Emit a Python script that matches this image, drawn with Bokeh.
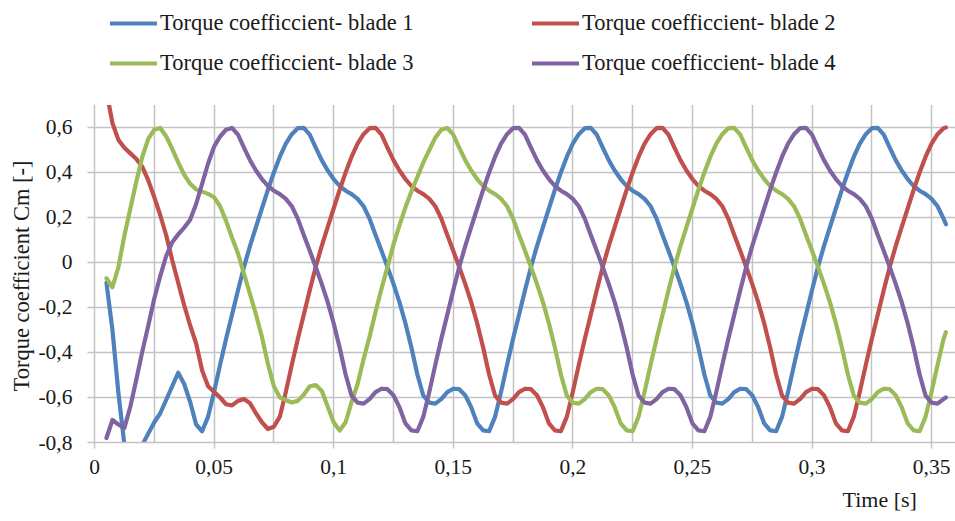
from bokeh.plotting import figure
from bokeh.models import (ColumnDataSource, FixedTicker, CustomJSTickFormatter,
                          Legend, LegendItem, Title, Range1d, BoxAnnotation)
from bokeh.embed import file_html
from bokeh.resources import INLINE

# ---------------- data ----------------
time_s = [
    0.005, 0.0075, 0.01, 0.0125, 0.015, 0.0175, 0.02, 0.0225,
    0.025, 0.0275, 0.03, 0.0325, 0.035, 0.0375, 0.04, 0.0425,
    0.045, 0.0475, 0.05, 0.0525, 0.055, 0.0575, 0.06, 0.0625,
    0.065, 0.0675, 0.07, 0.0725, 0.075, 0.0775, 0.08, 0.0825,
    0.085, 0.0875, 0.09, 0.0925, 0.095, 0.0975, 0.1, 0.1025,
    0.105, 0.1075, 0.11, 0.1125, 0.115, 0.1175, 0.12, 0.1225,
    0.125, 0.1275, 0.13, 0.1325, 0.135, 0.1375, 0.14, 0.1425,
    0.145, 0.1475, 0.15, 0.1525, 0.155, 0.1575, 0.16, 0.1625,
    0.165, 0.1675, 0.17, 0.1725, 0.175, 0.1775, 0.18, 0.1825,
    0.185, 0.1875, 0.19, 0.1925, 0.195, 0.1975, 0.2, 0.2025,
    0.205, 0.2075, 0.21, 0.2125, 0.215, 0.2175, 0.22, 0.2225,
    0.225, 0.2275, 0.23, 0.2325, 0.235, 0.2375, 0.24, 0.2425,
    0.245, 0.2475, 0.25, 0.2525, 0.255, 0.2575, 0.26, 0.2625,
    0.265, 0.2675, 0.27, 0.2725, 0.275, 0.2775, 0.28, 0.2825,
    0.285, 0.2875, 0.29, 0.2925, 0.295, 0.2975, 0.3, 0.3025,
    0.305, 0.3075, 0.31, 0.3125, 0.315, 0.3175, 0.32, 0.3225,
    0.325, 0.3275, 0.33, 0.3325, 0.335, 0.3375, 0.34, 0.3425,
    0.345, 0.3475, 0.35, 0.3525, 0.355, 0.356,
]

blade_1 = [
    -0.09, -0.30, -0.58, -0.81, -0.83, -0.83, -0.81, -0.76,
    -0.71, -0.67, -0.61, -0.55, -0.49, -0.54, -0.62, -0.72,
    -0.75, -0.685, -0.575, -0.455, -0.34, -0.232, -0.123, -0.02,
    0.073, 0.157, 0.24, 0.323, 0.4, 0.47, 0.528, 0.57,
    0.597, 0.598, 0.568, 0.51, 0.455, 0.409, 0.371, 0.34,
    0.319, 0.304, 0.283, 0.25, 0.195, 0.122, 0.052, -0.02,
    -0.095, -0.176, -0.27, -0.378, -0.498, -0.592, -0.623, -0.627,
    -0.607, -0.576, -0.561, -0.563, -0.59, -0.643, -0.715, -0.746,
    -0.75, -0.685, -0.575, -0.455, -0.34, -0.232, -0.123, -0.02,
    0.073, 0.157, 0.24, 0.323, 0.4, 0.47, 0.528, 0.57,
    0.597, 0.598, 0.568, 0.51, 0.455, 0.409, 0.371, 0.34,
    0.319, 0.304, 0.283, 0.25, 0.195, 0.122, 0.052, -0.02,
    -0.095, -0.176, -0.27, -0.378, -0.498, -0.592, -0.623, -0.627,
    -0.607, -0.576, -0.561, -0.563, -0.59, -0.643, -0.715, -0.746,
    -0.75, -0.685, -0.575, -0.455, -0.34, -0.232, -0.123, -0.02,
    0.073, 0.157, 0.24, 0.323, 0.4, 0.47, 0.528, 0.57,
    0.597, 0.598, 0.568, 0.51, 0.455, 0.409, 0.371, 0.34,
    0.319, 0.304, 0.283, 0.25, 0.195, 0.17,
]

blade_2 = [
    0.76, 0.62, 0.545, 0.51, 0.485, 0.46, 0.425, 0.365,
    0.29, 0.21, 0.12, 0.01, -0.09, -0.19, -0.28, -0.36,
    -0.48, -0.55, -0.575, -0.60, -0.63, -0.635, -0.615, -0.607,
    -0.625, -0.67, -0.71, -0.74, -0.73, -0.685, -0.575, -0.455,
    -0.34, -0.232, -0.123, -0.02, 0.073, 0.157, 0.24, 0.323,
    0.4, 0.47, 0.528, 0.57, 0.597, 0.598, 0.568, 0.51,
    0.455, 0.409, 0.371, 0.34, 0.319, 0.304, 0.283, 0.25,
    0.195, 0.122, 0.052, -0.02, -0.095, -0.176, -0.27, -0.378,
    -0.498, -0.592, -0.623, -0.627, -0.607, -0.576, -0.561, -0.563,
    -0.59, -0.643, -0.715, -0.746, -0.75, -0.685, -0.575, -0.455,
    -0.34, -0.232, -0.123, -0.02, 0.073, 0.157, 0.24, 0.323,
    0.4, 0.47, 0.528, 0.57, 0.597, 0.598, 0.568, 0.51,
    0.455, 0.409, 0.371, 0.34, 0.319, 0.304, 0.283, 0.25,
    0.195, 0.122, 0.052, -0.02, -0.095, -0.176, -0.27, -0.378,
    -0.498, -0.592, -0.623, -0.627, -0.607, -0.576, -0.561, -0.563,
    -0.59, -0.643, -0.715, -0.746, -0.75, -0.685, -0.575, -0.455,
    -0.34, -0.232, -0.123, -0.02, 0.073, 0.157, 0.24, 0.323,
    0.4, 0.47, 0.528, 0.57, 0.597, 0.60,
]

blade_3 = [
    -0.07, -0.11, -0.02, 0.12, 0.24, 0.36, 0.47, 0.55,
    0.59, 0.598, 0.56, 0.505, 0.445, 0.39, 0.35, 0.325,
    0.315, 0.305, 0.29, 0.25, 0.185, 0.11, 0.04, -0.05,
    -0.14, -0.23, -0.33, -0.45, -0.55, -0.60, -0.612, -0.622,
    -0.615, -0.588, -0.55, -0.545, -0.57, -0.64, -0.71, -0.747,
    -0.71, -0.62, -0.54, -0.43, -0.33, -0.22, -0.117, -0.02,
    0.08, 0.165, 0.245, 0.315, 0.38, 0.445, 0.50, 0.555,
    0.59, 0.598, 0.568, 0.51, 0.455, 0.409, 0.371, 0.34,
    0.319, 0.304, 0.283, 0.25, 0.195, 0.122, 0.052, -0.02,
    -0.095, -0.176, -0.27, -0.378, -0.498, -0.592, -0.623, -0.627,
    -0.607, -0.576, -0.561, -0.563, -0.59, -0.643, -0.715, -0.746,
    -0.75, -0.685, -0.575, -0.455, -0.34, -0.232, -0.123, -0.02,
    0.073, 0.157, 0.24, 0.323, 0.4, 0.47, 0.528, 0.57,
    0.597, 0.598, 0.568, 0.51, 0.455, 0.409, 0.371, 0.34,
    0.319, 0.304, 0.283, 0.25, 0.195, 0.122, 0.052, -0.02,
    -0.095, -0.176, -0.27, -0.378, -0.498, -0.592, -0.623, -0.627,
    -0.607, -0.576, -0.561, -0.563, -0.59, -0.643, -0.715, -0.746,
    -0.75, -0.685, -0.575, -0.455, -0.34, -0.31,
]

blade_4 = [
    -0.78, -0.70, -0.72, -0.735, -0.64, -0.52, -0.395, -0.28,
    -0.16, -0.06, 0.03, 0.09, 0.125, 0.155, 0.19, 0.26,
    0.35, 0.44, 0.515, 0.56, 0.59, 0.598, 0.568, 0.51,
    0.455, 0.409, 0.371, 0.34, 0.319, 0.304, 0.283, 0.25,
    0.195, 0.122, 0.052, -0.02, -0.095, -0.176, -0.27, -0.378,
    -0.498, -0.592, -0.623, -0.627, -0.607, -0.576, -0.561, -0.563,
    -0.59, -0.643, -0.715, -0.746, -0.75, -0.685, -0.575, -0.455,
    -0.34, -0.232, -0.123, -0.02, 0.073, 0.157, 0.24, 0.323,
    0.4, 0.47, 0.528, 0.57, 0.597, 0.598, 0.568, 0.51,
    0.455, 0.409, 0.371, 0.34, 0.319, 0.304, 0.283, 0.25,
    0.195, 0.122, 0.052, -0.02, -0.095, -0.176, -0.27, -0.378,
    -0.498, -0.592, -0.623, -0.627, -0.607, -0.576, -0.561, -0.563,
    -0.59, -0.643, -0.715, -0.746, -0.75, -0.685, -0.575, -0.455,
    -0.34, -0.232, -0.123, -0.02, 0.073, 0.157, 0.24, 0.323,
    0.4, 0.47, 0.528, 0.57, 0.597, 0.598, 0.568, 0.51,
    0.455, 0.409, 0.371, 0.34, 0.319, 0.304, 0.283, 0.25,
    0.195, 0.122, 0.052, -0.02, -0.095, -0.176, -0.27, -0.378,
    -0.498, -0.592, -0.623, -0.627, -0.607, -0.60,
]

series_names = ["Torque coefficcient- blade 1", "Torque coefficcient- blade 2",
                "Torque coefficcient- blade 3", "Torque coefficcient- blade 4"]
series_colors = ["#4F81BD", "#C0504D", "#9BBB59", "#8064A2"]

x_major_ticks = [0, 0.05, 0.1, 0.15, 0.2, 0.25, 0.3, 0.35]
x_minor_ticks = [0.025, 0.075, 0.125, 0.175, 0.225, 0.275, 0.325]
y_ticks = [-0.8, -0.6, -0.4, -0.2, 0, 0.2, 0.4, 0.6]
y_axis_bounds = (-0.8, 0.7)

x_title = "Time [s]"
y_title = "Torque coefficient Cm [-]"

# ---------------- figure ----------------
FONT = "Liberation Serif"
GRID = "#C3C3C3"
TXT = "#1a1a1a"

src = ColumnDataSource(dict(t=time_s, b1=blade_1, b2=blade_2, b3=blade_3, b4=blade_4))

# the frame reaches the top of the canvas so that the legend (drawn inside it)
# is not clipped; the part above 0.7 is masked white.
p = figure(width=955, height=521, output_backend="svg", toolbar_location=None,
           x_range=Range1d(0, 0.36), y_range=Range1d(-0.8, 1.1644),
           min_border_left=94, min_border_right=0, min_border_top=0,
           min_border_bottom=79)
p.outline_line_color = None
p.background_fill_color = "white"
p.border_fill_color = "white"

renderers = []
for key, col in zip(["b1", "b2", "b3", "b4"], series_colors):
    r = p.line("t", key, source=src, line_color=col, line_width=4.2,
               line_join="round", line_cap="round")
    renderers.append(r)

fmt = CustomJSTickFormatter(code="""
    const v = Math.round(tick * 1000) / 1000;
    return v.toString().replace('.', ',');
""")

xa = p.xaxis[0]
xa.ticker = FixedTicker(ticks=x_major_ticks, minor_ticks=x_minor_ticks)
xa.formatter = fmt
xa.major_label_text_font = FONT
xa.major_label_text_font_size = "21.5px"
xa.major_label_text_color = TXT
xa.axis_line_color = GRID
xa.axis_line_width = 1.5
xa.major_tick_line_color = GRID
xa.major_tick_line_width = 1.5
xa.major_tick_in = 0
xa.major_tick_out = 6
xa.minor_tick_line_color = None
xa.major_label_standoff = 11

ya = p.yaxis[0]
ya.ticker = FixedTicker(ticks=y_ticks)
ya.bounds = y_axis_bounds
ya.formatter = fmt
ya.major_label_text_font = FONT
ya.major_label_text_font_size = "21.5px"
ya.major_label_text_color = TXT
ya.axis_line_color = GRID
ya.axis_line_width = 1.5
ya.major_tick_line_color = GRID
ya.major_tick_line_width = 1.5
ya.major_tick_in = 0
ya.major_tick_out = 7
ya.minor_tick_line_color = None
ya.major_label_standoff = 15

p.xgrid.grid_line_color = GRID
p.xgrid.grid_line_width = 1.5
p.xgrid.minor_grid_line_color = GRID
p.xgrid.minor_grid_line_width = 1.5
p.ygrid.grid_line_color = GRID
p.ygrid.grid_line_width = 1.5

# white mask over the frame part above the plotted range (top of the plot = 0.7)
p.add_layout(BoxAnnotation(bottom=y_axis_bounds[1], fill_color="white", fill_alpha=1,
                           line_color=None, level="annotation"))

# y-axis title, centred on the plotted range -0.8 .. 0.7
p.add_layout(Title(text=y_title, align="left", offset=51, text_font=FONT,
                   text_font_size="22.5px", text_font_style="normal",
                   text_color=TXT, standoff=4), "left")

# x-axis title placed at the right, as in the reference
p.add_layout(Title(text=x_title, align="left", offset=748, text_font=FONT,
                   text_font_size="22px", text_font_style="normal",
                   text_color=TXT, standoff=17), "below")

def make_legend(items, loc):
    return Legend(items=items, location=loc, orientation="vertical",
                  label_text_font=FONT, label_text_font_size="22.5px",
                  label_text_color=TXT,
                  glyph_width=47, glyph_height=28, label_height=28,
                  label_standoff=3, spacing=12, padding=0, margin=0,
                  border_line_color=None, background_fill_alpha=0)

leg_a = make_legend([LegendItem(label=series_names[0], renderers=[renderers[0]]),
                     LegendItem(label=series_names[2], renderers=[renderers[2]])],
                    (16, 365))
leg_b = make_legend([LegendItem(label=series_names[1], renderers=[renderers[1]]),
                     LegendItem(label=series_names[3], renderers=[renderers[3]])],
                    (438, 365))
p.add_layout(leg_a, "center")
p.add_layout(leg_b, "center")

open("out.html", "w").write(file_html(p, INLINE))
